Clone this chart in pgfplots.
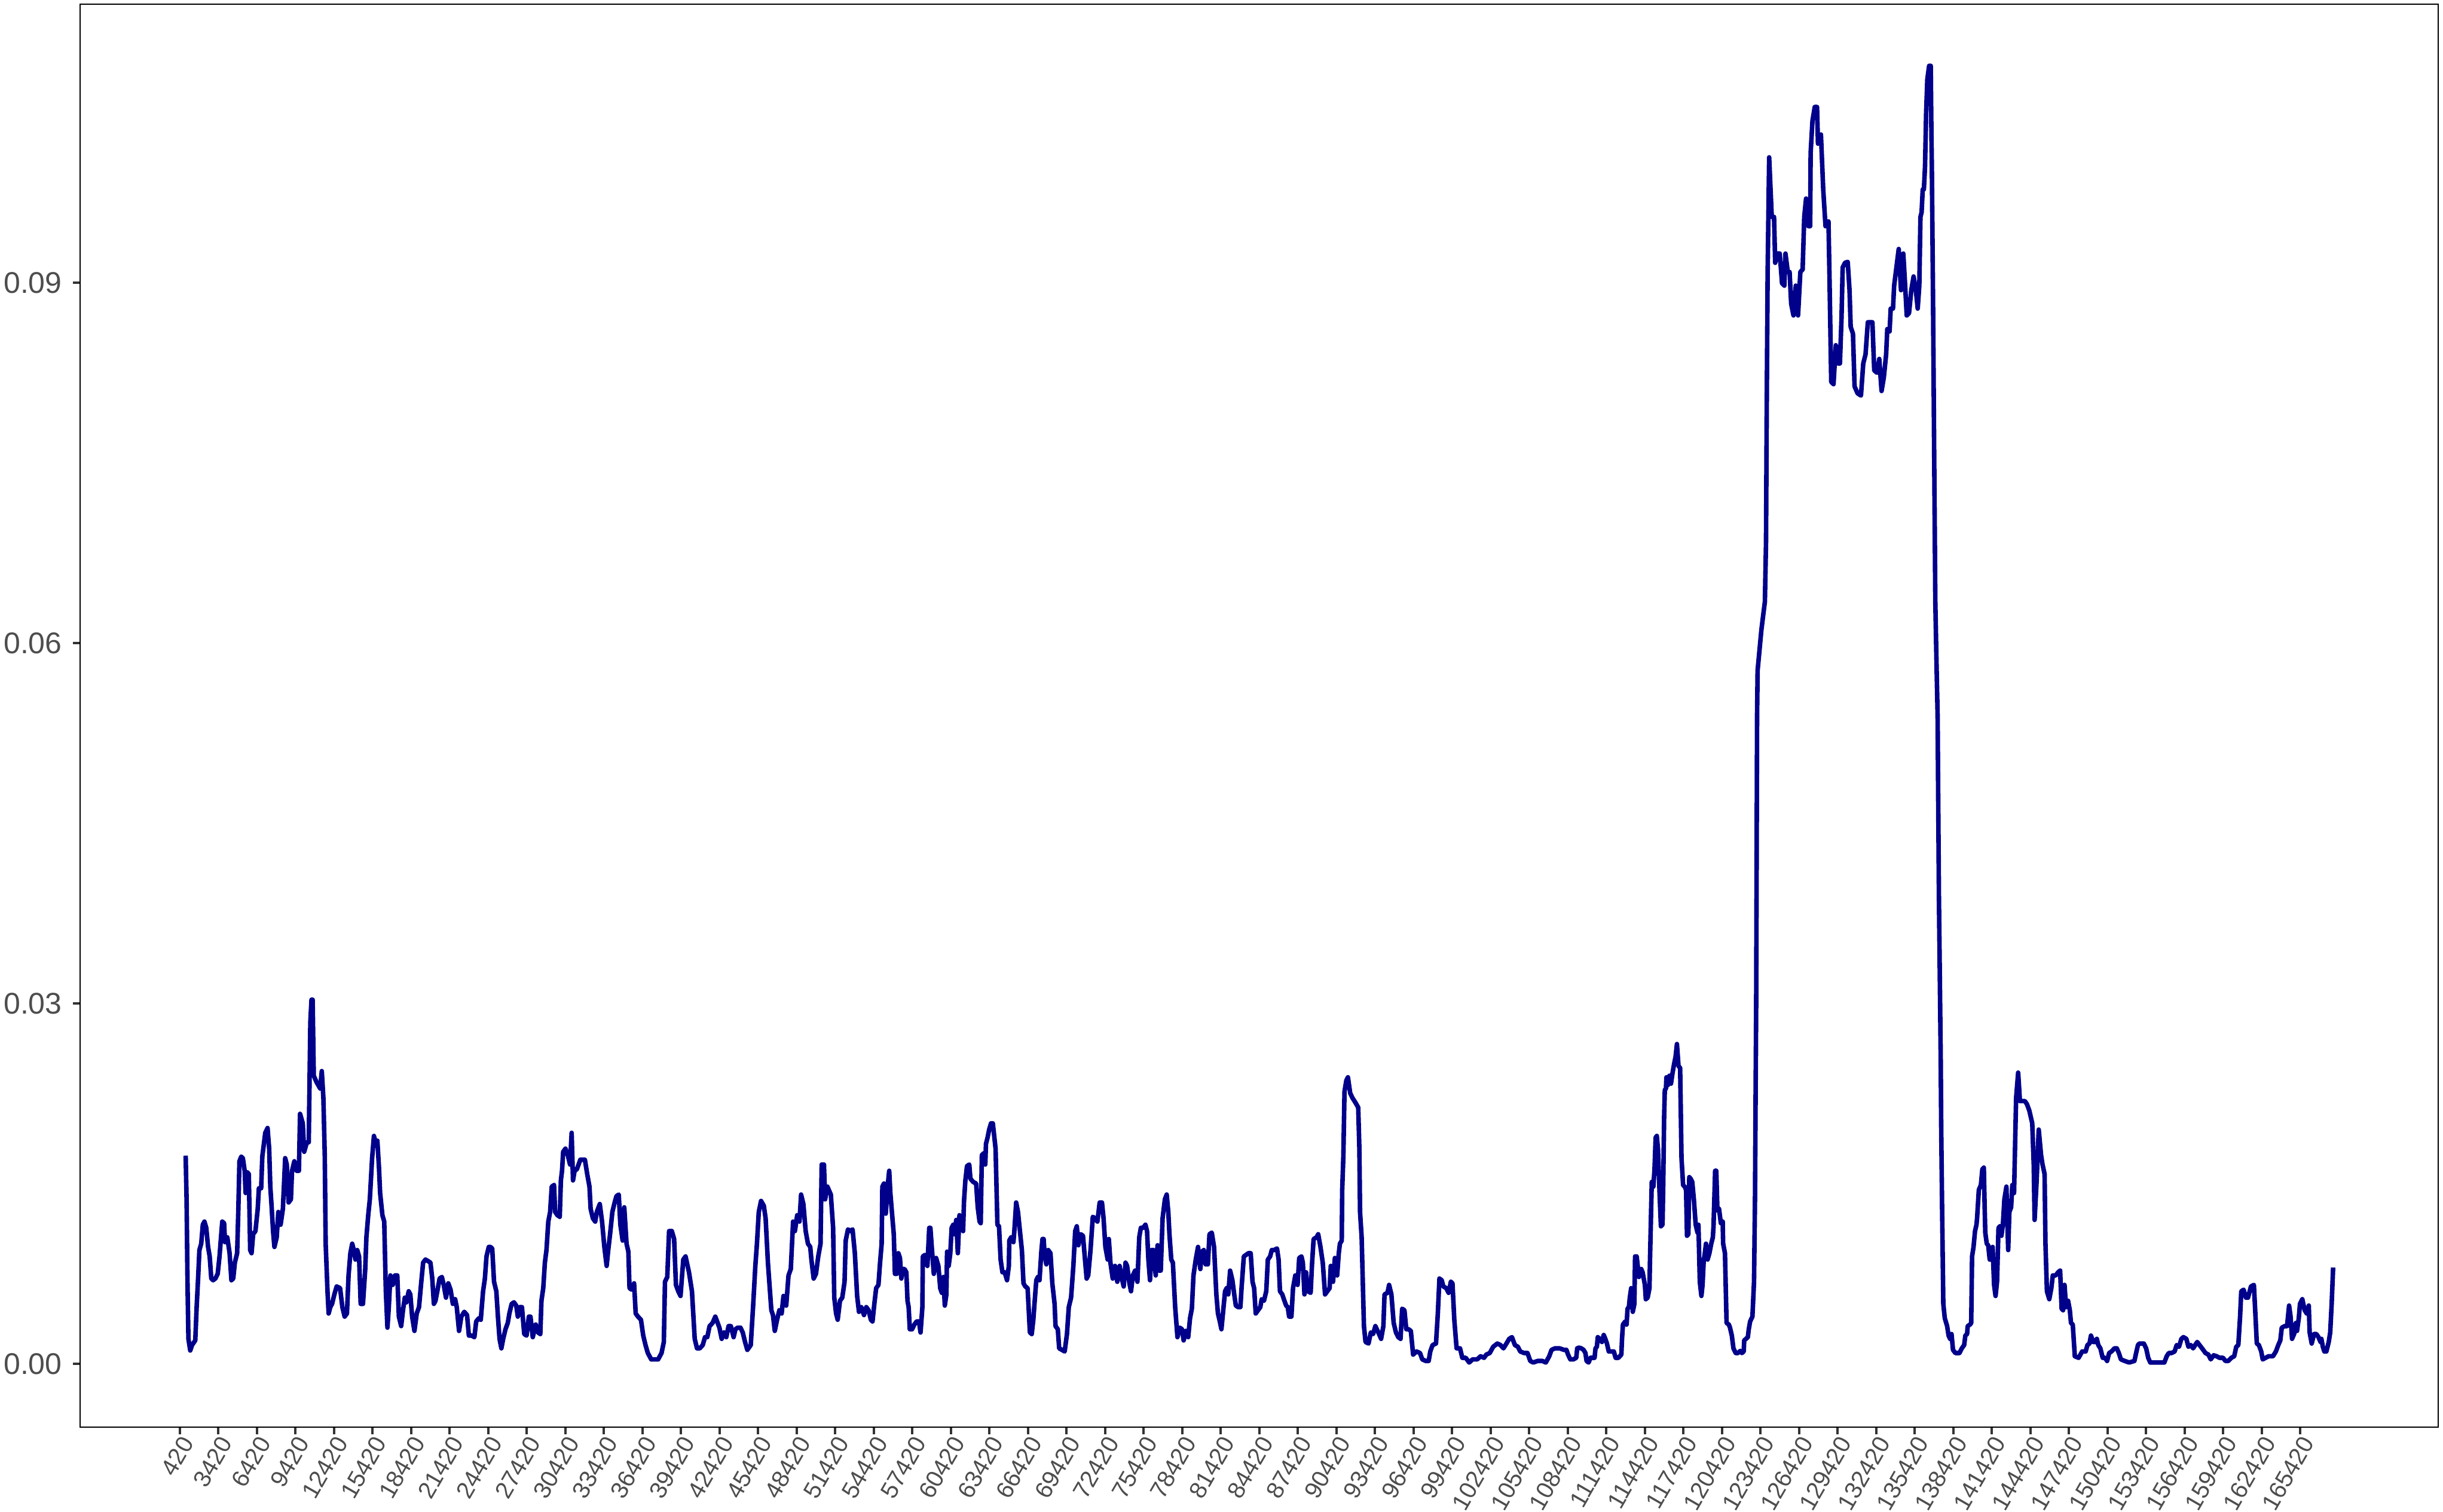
\documentclass[border=0pt]{standalone}
\usepackage{fontspec}
\setmainfont{Liberation Sans}
\usepackage{pgfplots}
\pgfplotsset{compat=1.18}
\definecolor{lineblue}{HTML}{00008B}
\definecolor{ticklab}{HTML}{4D4D4D}
\definecolor{tickcol}{HTML}{333333}

\begin{document}
\begin{tikzpicture}
\begin{axis}[
  name=ax, at={(0,0)}, anchor=south west,
  scale only axis, width=986.25bp, height=595.25bp,
  xmin=-7333, xmax=176149, ymin=-0.00527, ymax=0.11318,
  axis line style={black, line width=0.5bp},
  tick align=outside, tick pos=left,
  major tick length=2.9bp,
  tick style={color=tickcol, line width=1bp},
  scaled x ticks=false, scaled y ticks=false,
  xtick={420,3420,6420,9420,12420,15420,18420,21420,24420,27420,30420,33420,36420,39420,42420,45420,48420,51420,54420,57420,60420,63420,66420,69420,72420,75420,78420,81420,84420,87420,90420,93420,96420,99420,102420,105420,108420,111420,114420,117420,120420,123420,126420,129420,132420,135420,138420,141420,144420,147420,150420,153420,156420,159420,162420,165420},
  xticklabels={420,3420,6420,9420,12420,15420,18420,21420,24420,27420,30420,33420,36420,39420,42420,45420,48420,51420,54420,57420,60420,63420,66420,69420,72420,75420,78420,81420,84420,87420,90420,93420,96420,99420,102420,105420,108420,111420,114420,117420,120420,123420,126420,129420,132420,135420,138420,141420,144420,147420,150420,153420,156420,159420,162420,165420},
  ytick={0,0.03,0.06,0.09},
  yticklabels={0.00,0.03,0.06,0.09},
  yticklabel shift=4.5bp,
  yticklabel style={font=\fontsize{12.5bp}{12.5bp}\selectfont, text=ticklab, anchor=east, inner sep=0pt},
  xticklabel style={font=\fontsize{10bp}{10bp}\selectfont, text=ticklab, rotate=60, anchor=north east, inner sep=0pt},
]
% series
\addplot[lineblue, line width=1.9bp, line join=round, mark=none] table {
x y
881 0.01733
952 0.01369
1023 0.00683
1095 0.00208
1237 0.00111
1379 0.00156
1629 0.00195
1735 0.00472
1860 0.00736
1949 0.00947
2091 0.01000
2216 0.01158
2341 0.01184
2483 0.01132
2625 0.00973
2750 0.00894
2875 0.00710
3017 0.00696
3195 0.00710
3373 0.00749
3515 0.00894
3640 0.01066
3729 0.01184
3871 0.01171
3943 0.01013
4121 0.01053
4299 0.00921
4441 0.00696
4583 0.00710
4708 0.00842
4886 0.00921
4975 0.01264
5064 0.01686
5206 0.01725
5331 0.01712
5473 0.01607
5545 0.01422
5687 0.01593
5794 0.01580
5901 0.00947
6007 0.00921
6132 0.01079
6310 0.01105
6488 0.01290
6577 0.01461
6755 0.01461
6844 0.01725
7075 0.01923
7253 0.01963
7378 0.01791
7467 0.01475
7556 0.01330
7681 0.01105
7787 0.00973
7965 0.01053
8090 0.01264
8268 0.01158
8446 0.01290
8624 0.01712
8749 0.01659
8891 0.01343
9069 0.01369
9158 0.01607
9336 0.01686
9514 0.01607
9692 0.01607
9781 0.02081
9995 0.02002
10101 0.01765
10315 0.01844
10457 0.01844
10529 0.02424
10582 0.02846
10671 0.03031
10760 0.03031
10849 0.02398
11063 0.02345
11347 0.02292
11472 0.02437
11597 0.02213
11703 0.01738
11775 0.01000
11917 0.00604
12006 0.00419
12131 0.00472
12273 0.00499
12451 0.00578
12629 0.00644
12896 0.00630
13074 0.00472
13252 0.00393
13430 0.00419
13555 0.00736
13697 0.00921
13839 0.01000
13964 0.00947
14089 0.00868
14231 0.00947
14373 0.00894
14498 0.00499
14676 0.00499
14854 0.00789
14943 0.01053
15085 0.01237
15210 0.01369
15388 0.01712
15530 0.01897
15655 0.01844
15797 0.01857
15922 0.01633
16011 0.01422
16189 0.01237
16331 0.01184
16456 0.00604
16581 0.00301
16687 0.00472
16812 0.00736
16990 0.00657
17168 0.00736
17346 0.00736
17471 0.00393
17649 0.00314
17791 0.00446
17933 0.00551
18058 0.00512
18236 0.00604
18361 0.00578
18503 0.00393
18681 0.00274
18859 0.00419
19037 0.00472
19215 0.00683
19357 0.00842
19535 0.00868
19749 0.00855
19927 0.00842
20069 0.00710
20194 0.00499
20319 0.00525
20461 0.00604
20639 0.00710
20817 0.00723
20959 0.00657
21137 0.00551
21315 0.00670
21493 0.00617
21671 0.00499
21849 0.00538
21974 0.00472
22152 0.00274
22330 0.00393
22561 0.00433
22775 0.00406
22917 0.00235
23131 0.00235
23345 0.00222
23487 0.00353
23701 0.00380
23843 0.00367
24021 0.00604
24163 0.00710
24288 0.00894
24466 0.00973
24591 0.00973
24733 0.00960
24875 0.00683
25053 0.00604
25178 0.00393
25303 0.00208
25445 0.00129
25587 0.00208
25765 0.00288
25943 0.00340
26068 0.00419
26246 0.00499
26424 0.00512
26602 0.00485
26727 0.00393
26869 0.00472
27047 0.00472
27225 0.00248
27406 0.00235
27584 0.00393
27709 0.00393
27887 0.00222
28118 0.00327
28296 0.00261
28474 0.00248
28563 0.00525
28705 0.00630
28830 0.00842
28955 0.00947
29097 0.01184
29239 0.01264
29364 0.01475
29542 0.01488
29631 0.01264
29809 0.01237
29987 0.01224
30076 0.01527
30165 0.01607
30254 0.01765
30432 0.01791
30610 0.01738
30788 0.01659
30913 0.01923
31019 0.01527
31144 0.01607
31322 0.01620
31589 0.01699
31945 0.01699
32123 0.01580
32301 0.01475
32390 0.01290
32568 0.01211
32746 0.01184
32871 0.01264
33102 0.01330
33280 0.01184
33458 0.00973
33636 0.00815
33761 0.00947
33903 0.01079
34081 0.01264
34259 0.01343
34401 0.01396
34579 0.01409
34704 0.01158
34882 0.01026
35007 0.01303
35185 0.01000
35327 0.00934
35416 0.00630
35594 0.00617
35772 0.00670
35897 0.00419
36075 0.00393
36306 0.00367
36484 0.00235
36662 0.00156
36840 0.00090
37107 0.00037
37374 0.00037
37641 0.00037
37908 0.00090
38086 0.00182
38175 0.00683
38353 0.00723
38495 0.01105
38709 0.01105
38887 0.01039
39029 0.00657
39207 0.00604
39385 0.00565
39599 0.00868
39777 0.00894
40044 0.00762
40275 0.00604
40489 0.00208
40667 0.00129
40881 0.00129
41112 0.00156
41290 0.00222
41468 0.00222
41646 0.00314
41877 0.00340
42091 0.00393
42233 0.00353
42411 0.00301
42589 0.00208
42767 0.00261
42945 0.00222
43123 0.00314
43301 0.00314
43515 0.00222
43657 0.00288
43835 0.00301
44049 0.00301
44227 0.00261
44405 0.00182
44583 0.00116
44850 0.00156
45028 0.00472
45206 0.00815
45331 0.01000
45473 0.01264
45651 0.01356
45865 0.01316
46007 0.01211
46185 0.00842
46327 0.00630
46452 0.00446
46577 0.00406
46719 0.00274
46897 0.00367
47075 0.00446
47253 0.00419
47395 0.00565
47609 0.00485
47787 0.00736
47965 0.00789
48143 0.01184
48285 0.01105
48463 0.01237
48641 0.01184
48766 0.01409
48944 0.01330
49122 0.01105
49300 0.01000
49478 0.00973
49567 0.00868
49745 0.00710
49923 0.00749
50101 0.00894
50279 0.01000
50368 0.01659
50546 0.01659
50635 0.01369
50813 0.01475
51080 0.01409
51258 0.01132
51347 0.00551
51489 0.00419
51614 0.00367
51792 0.00525
51970 0.00551
52148 0.00683
52237 0.01026
52415 0.01119
52593 0.01105
52771 0.01119
52949 0.00921
53127 0.00565
53269 0.00433
53447 0.00472
53661 0.00406
53839 0.00472
54017 0.00446
54195 0.00367
54323 0.00353
54465 0.00499
54607 0.00630
54785 0.00657
54910 0.00842
55035 0.01000
55088 0.01475
55213 0.01501
55355 0.01250
55497 0.01475
55622 0.01607
55711 0.01422
55853 0.01237
55978 0.01079
56067 0.00749
56209 0.00749
56334 0.00921
56459 0.00881
56565 0.00710
56690 0.00789
56815 0.00789
56957 0.00762
57046 0.00525
57135 0.00472
57224 0.00288
57402 0.00288
57580 0.00327
57758 0.00353
57936 0.00353
58061 0.00261
58203 0.00472
58239 0.00894
58417 0.00907
58595 0.00815
58737 0.01132
58826 0.01132
58951 0.00947
59093 0.00749
59271 0.00881
59449 0.00815
59591 0.00630
59716 0.00591
59841 0.00723
59947 0.00485
60072 0.00578
60125 0.00934
60250 0.00815
60375 0.00921
60481 0.01132
60606 0.01158
60695 0.01079
60837 0.01198
60962 0.00921
61087 0.01237
61229 0.01132
61371 0.01105
61443 0.01356
61549 0.01527
61674 0.01646
61852 0.01659
61941 0.01541
62155 0.01514
62386 0.01501
62511 0.01303
62653 0.01184
62742 0.01171
62831 0.01738
62973 0.01752
63098 0.01659
63151 0.01831
63276 0.01884
63401 0.01950
63543 0.02002
63685 0.02002
63899 0.01791
64041 0.01158
64166 0.01145
64291 0.00868
64433 0.00762
64611 0.00762
64789 0.00696
64931 0.00815
64967 0.01026
65109 0.01053
65287 0.01013
65358 0.01105
65501 0.01343
65643 0.01264
65768 0.01132
65946 0.00947
66071 0.00670
66213 0.00644
66391 0.00630
66569 0.00261
66711 0.00248
66836 0.00367
66925 0.00499
67067 0.00696
67192 0.00723
67317 0.00696
67459 0.00934
67548 0.01039
67637 0.01039
67726 0.00894
67851 0.00828
67993 0.00947
68171 0.00921
68313 0.00670
68491 0.00499
68563 0.00314
68741 0.00288
68847 0.00129
69061 0.00116
69275 0.00103
69453 0.00248
69595 0.00472
69773 0.00551
69951 0.00815
70093 0.01105
70218 0.01145
70343 0.00987
70521 0.01079
70699 0.01066
70877 0.00842
70984 0.00710
71108 0.00736
71286 0.00947
71464 0.01224
71642 0.01211
71820 0.01184
71998 0.01343
72176 0.01343
72301 0.01211
72443 0.00973
72621 0.00868
72710 0.01039
72835 0.00842
73013 0.00710
73191 0.00815
73369 0.00683
73547 0.00815
73725 0.00710
73867 0.00644
74009 0.00842
74134 0.00815
74312 0.00670
74437 0.00604
74579 0.00736
74757 0.00776
74935 0.00683
75077 0.01053
75202 0.01132
75380 0.01132
75558 0.01158
75683 0.01105
75789 0.00868
75914 0.00696
76039 0.00947
76181 0.00947
76359 0.00736
76501 0.00987
76626 0.00776
76751 0.00776
76893 0.01211
77071 0.01369
77213 0.01409
77338 0.01264
77427 0.01079
77569 0.00868
77694 0.00842
77872 0.00472
78050 0.00222
78228 0.00301
78406 0.00288
78531 0.00195
78709 0.00274
78887 0.00222
79029 0.00380
79171 0.00459
79296 0.00736
79474 0.00868
79652 0.00973
79830 0.00789
79955 0.00934
80097 0.00947
80239 0.00828
80417 0.00828
80542 0.01079
80720 0.01092
80898 0.00973
81076 0.00578
81201 0.00419
81346 0.00353
81471 0.00288
81613 0.00446
81755 0.00604
81880 0.00630
82005 0.00578
82147 0.00776
82325 0.00696
82467 0.00578
82592 0.00485
82770 0.00472
82948 0.00472
83037 0.00630
83215 0.00894
83393 0.00907
83571 0.00921
83749 0.00921
83891 0.00683
84016 0.00630
84141 0.00419
84319 0.00446
84497 0.00472
84603 0.00538
84781 0.00525
84959 0.00604
85084 0.00868
85262 0.00894
85387 0.00947
85565 0.00947
85796 0.00960
85921 0.00868
86027 0.00604
86205 0.00578
86330 0.00538
86508 0.00485
86633 0.00472
86739 0.00393
86917 0.00393
87042 0.00630
87220 0.00736
87398 0.00657
87523 0.00881
87701 0.00894
87807 0.00842
87932 0.00578
88057 0.00762
88199 0.00604
88413 0.00591
88519 0.00828
88644 0.01039
88875 0.01053
89000 0.01079
89178 0.00973
89356 0.00842
89534 0.00578
89712 0.00604
89890 0.00630
89979 0.00815
90157 0.00683
90299 0.00881
90477 0.00736
90602 0.00921
90691 0.01000
90833 0.01026
90869 0.01448
90958 0.01725
91047 0.02266
91189 0.02358
91314 0.02385
91492 0.02253
91670 0.02213
91901 0.02174
92115 0.02134
92204 0.01791
92257 0.01264
92382 0.01053
92560 0.00314
92685 0.00182
92916 0.00169
93094 0.00261
93272 0.00248
93450 0.00314
93681 0.00261
93895 0.00208
94073 0.00314
94162 0.00578
94393 0.00591
94518 0.00657
94696 0.00578
94874 0.00340
95052 0.00261
95230 0.00222
95408 0.00208
95533 0.00459
95711 0.00446
95853 0.00288
96031 0.00288
96209 0.00274
96387 0.00077
96654 0.00103
96921 0.00090
97099 0.00037
97366 0.00024
97597 0.00024
97722 0.00103
97900 0.00156
98167 0.00169
98309 0.00419
98434 0.00710
98612 0.00696
98737 0.00644
98968 0.00630
99146 0.00591
99324 0.00683
99449 0.00670
99591 0.00367
99769 0.00129
100036 0.00129
100214 0.00050
100481 0.00050
100748 0.00011
101015 0.00037
101371 0.00037
101638 0.00063
101905 0.00050
102083 0.00077
102350 0.00090
102617 0.00142
102937 0.00169
103187 0.00156
103418 0.00129
103649 0.00169
103863 0.00208
104077 0.00222
104308 0.00156
104539 0.00142
104717 0.00103
105020 0.00090
105287 0.00090
105501 0.00024
105732 0.00011
106088 0.00024
106444 0.00024
106711 0.00011
106978 0.00063
107156 0.00116
107423 0.00129
107779 0.00129
108135 0.00116
108316 0.00116
108441 0.00077
108619 0.00037
108850 0.00037
109081 0.00050
109153 0.00129
109295 0.00135
109473 0.00129
109651 0.00116
109793 0.00090
109882 0.00024
110043 0.00011
110185 0.00050
110363 0.00050
110505 0.00050
110577 0.00129
110683 0.00142
110755 0.00222
110897 0.00208
111075 0.00182
111217 0.00240
111342 0.00208
111467 0.00169
111609 0.00103
111787 0.00103
112001 0.00103
112143 0.00050
112357 0.00050
112588 0.00077
112641 0.00208
112713 0.00327
112891 0.00353
112997 0.00327
113069 0.00459
113175 0.00472
113247 0.00551
113353 0.00630
113478 0.00433
113603 0.00499
113656 0.00894
113781 0.00894
113959 0.00723
114137 0.00789
114243 0.00762
114421 0.00657
114493 0.00538
114635 0.00551
114777 0.00630
114813 0.00842
114902 0.01264
114955 0.01514
115080 0.01475
115169 0.01620
115258 0.01884
115347 0.01897
115436 0.01791
115561 0.01422
115667 0.01145
115792 0.01158
115845 0.01475
115917 0.02055
115970 0.02279
116059 0.02292
116095 0.02385
116201 0.02319
116326 0.02398
116451 0.02332
116557 0.02411
116682 0.02490
116807 0.02556
116913 0.02662
117038 0.02477
117163 0.02464
117269 0.01712
117394 0.01488
117519 0.01475
117625 0.01448
117697 0.01066
117803 0.01079
117875 0.01554
117981 0.01541
118106 0.01514
118231 0.01369
118373 0.01158
118515 0.01092
118587 0.01158
118693 0.00683
118818 0.00565
118907 0.00657
118996 0.00855
119085 0.00921
119174 0.01000
119299 0.00868
119441 0.00921
119583 0.01000
119708 0.01053
119761 0.01145
119886 0.01607
119975 0.01607
120064 0.01277
120189 0.01290
120331 0.01171
120473 0.01184
120509 0.01000
120651 0.00921
120776 0.00340
120954 0.00327
121043 0.00301
121185 0.00235
121310 0.00129
121488 0.00090
121666 0.00090
121844 0.00108
121969 0.00090
122111 0.00103
122147 0.00195
122289 0.00208
122431 0.00222
122503 0.00288
122609 0.00353
122787 0.00393
122912 0.00683
122990 0.01400
123040 0.02320
123080 0.03000
123115 0.04200
123150 0.05400
123190 0.05772
123490 0.06115
123757 0.06344
123846 0.06840
123899 0.07945
123971 0.09089
124090 0.10043
124291 0.09547
124469 0.09547
124558 0.09165
124736 0.09242
124914 0.09242
125092 0.08994
125270 0.08975
125359 0.09242
125537 0.09089
125679 0.09089
125804 0.08822
125982 0.08727
126160 0.08975
126338 0.08727
126516 0.09089
126694 0.09109
126819 0.09547
126961 0.09700
127139 0.09470
127281 0.09470
127317 0.10081
127459 0.10347
127637 0.10462
127815 0.10462
127887 0.10157
128118 0.10233
128296 0.09776
128474 0.09470
128705 0.09509
128777 0.09089
128919 0.08174
129097 0.08155
129275 0.08479
129453 0.08327
129595 0.08327
129720 0.08708
129809 0.09127
129987 0.09165
130201 0.09173
130343 0.08937
130432 0.08632
130610 0.08575
130735 0.08136
130966 0.08079
131233 0.08060
131411 0.08327
131589 0.08403
131767 0.08670
131981 0.08670
132123 0.08670
132265 0.08269
132479 0.08250
132657 0.08365
132835 0.08098
133013 0.08212
133191 0.08403
133280 0.08613
133458 0.08594
133547 0.08784
133725 0.08784
133814 0.08975
133992 0.09127
134170 0.09280
134348 0.08937
134526 0.09242
134651 0.09013
134793 0.08727
134971 0.08746
135149 0.08937
135327 0.09051
135505 0.08937
135647 0.08784
135772 0.08975
135861 0.09547
135950 0.09585
136039 0.09776
136128 0.09776
136217 0.09966
136306 0.10424
136395 0.10691
136537 0.10805
136662 0.10805
136715 0.10233
136751 0.09928
136840 0.08860
136929 0.07564
137018 0.06344
137107 0.05848
137196 0.05398
137297 0.03902
137366 0.03242
137434 0.02583
137480 0.01923
137549 0.01264
137640 0.00499
137754 0.00380
137937 0.00314
138051 0.00235
138165 0.00208
138279 0.00248
138394 0.00116
138576 0.00090
138896 0.00090
139079 0.00129
139262 0.00156
139353 0.00235
139490 0.00248
139536 0.00314
139718 0.00327
139810 0.00340
139878 0.00894
139992 0.00973
140107 0.01105
140221 0.01158
140267 0.01211
140404 0.01448
140563 0.01488
140678 0.01620
140792 0.01633
140860 0.01290
140906 0.01092
141020 0.01000
141134 0.00987
141249 0.00868
141363 0.00868
141477 0.00973
141591 0.00657
141705 0.00565
141820 0.00683
141934 0.01132
142048 0.01145
142162 0.01066
142276 0.01158
142391 0.01369
142550 0.01475
142688 0.00947
142779 0.01264
142916 0.01303
143007 0.01488
143144 0.01422
143304 0.02213
143464 0.02424
143601 0.02187
143761 0.02187
143989 0.02187
144149 0.02161
144332 0.02108
144560 0.02002
144675 0.01659
144743 0.01198
144903 0.01527
145063 0.01950
145246 0.01738
145360 0.01659
145520 0.01580
145588 0.01000
145702 0.00604
145885 0.00538
146045 0.00630
146159 0.00736
146388 0.00736
146570 0.00762
146730 0.00776
146844 0.00459
146959 0.00446
147073 0.00657
147187 0.00472
147347 0.00525
147484 0.00446
147575 0.00340
147712 0.00327
147872 0.00063
148169 0.00050
148443 0.00103
148717 0.00103
148854 0.00156
149014 0.00169
149128 0.00235
149311 0.00182
149471 0.00182
149585 0.00208
149699 0.00156
149859 0.00129
150042 0.00050
150225 0.00050
150385 0.00024
150544 0.00090
150727 0.00103
150956 0.00129
151138 0.00129
151298 0.00090
151458 0.00037
151755 0.00024
152098 0.00011
152509 0.00024
152669 0.00103
152783 0.00156
152897 0.00169
153240 0.00169
153423 0.00129
153583 0.00050
153743 0.00011
154153 0.00011
154496 0.00011
154838 0.00011
155021 0.00063
155181 0.00090
155409 0.00090
155638 0.00103
155798 0.00156
155980 0.00142
156163 0.00208
156323 0.00222
156551 0.00208
156711 0.00142
156894 0.00156
157077 0.00129
157237 0.00156
157396 0.00182
157579 0.00156
157808 0.00124
158036 0.00090
158264 0.00077
158447 0.00037
158676 0.00071
158904 0.00063
159132 0.00050
159406 0.00050
159589 0.00024
159818 0.00024
160046 0.00050
160274 0.00063
160434 0.00142
160594 0.00156
160731 0.00393
160823 0.00604
161005 0.00617
161188 0.00551
161348 0.00551
161576 0.00644
161805 0.00657
161919 0.00419
162033 0.00169
162193 0.00156
162376 0.00103
162490 0.00037
162718 0.00050
162947 0.00063
163289 0.00063
163518 0.00103
163701 0.00156
163861 0.00195
163974 0.00301
164203 0.00314
164386 0.00314
164545 0.00485
164660 0.00393
164774 0.00208
164934 0.00248
165071 0.00340
165162 0.00274
165299 0.00380
165390 0.00499
165573 0.00538
165756 0.00446
165916 0.00419
166076 0.00485
166144 0.00261
166304 0.00169
166487 0.00248
166669 0.00248
166829 0.00222
166989 0.00182
167057 0.00208
167171 0.00142
167286 0.00103
167446 0.00103
167629 0.00182
167743 0.00261
167857 0.00499
167971 0.00802
};
\end{axis}
\pgfresetboundingbox
\path[use as bounding box] ([shift={(-33.5bp,-35.5bp)}]ax.south west) rectangle ([shift={(2bp,1.75bp)}]ax.north east);
\end{tikzpicture}
\end{document}
